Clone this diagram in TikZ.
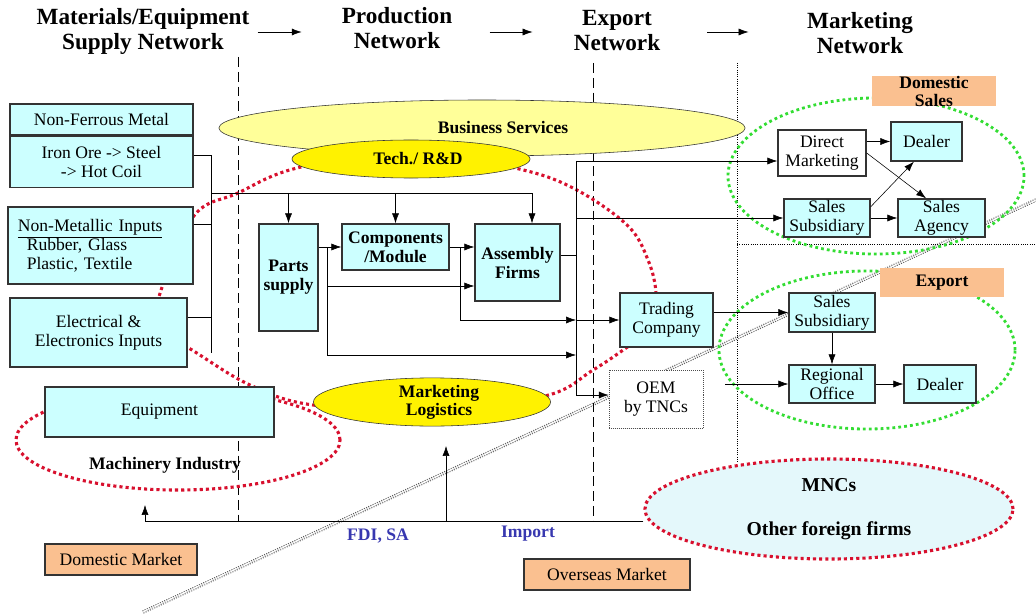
\documentclass[tikz,border=0pt]{standalone}
\usepackage{fontspec}
\setmainfont{Liberation Serif}
\usetikzlibrary{positioning,shapes.geometric,arrows.meta}
\definecolor{boxcyan}{HTML}{CCFFFF}
\definecolor{peach}{HTML}{FAC090}
\definecolor{lightyel}{HTML}{FFFF99}
\definecolor{dotred}{HTML}{D8102E}
\definecolor{dotgreen}{HTML}{33DD33}
\definecolor{paleblue}{HTML}{E4F8FB}
\definecolor{labblue}{HTML}{3838B0}
\pgfdeclarelayer{bg}
\pgfsetlayers{bg,main}

\begin{document}
\begin{tikzpicture}[x=0.025cm,y=-0.025cm,>={Latex[length=7pt,width=5pt]},line width=.8pt,
 every node/.style={font=\fontsize{12.5}{13.5}\selectfont, align=center, inner sep=0pt},
 box/.style={draw=black!80, fill=boxcyan, line width=1pt},
 bbox/.style={box, font=\fontsize{12.5}{13.5}\selectfont\bfseries},
 head/.style={font=\fontsize{16.5}{17.8}\selectfont\bfseries},
 tag/.style={fill=peach, font=\fontsize{12.5}{12.8}\selectfont\bfseries},
 oval/.style={ellipse, draw=black!80, fill=yellow, font=\fontsize{12.5}{12.8}\selectfont\bfseries},
 bluelab/.style={text=labblue, font=\fontsize{12.5}{13.5}\selectfont\bfseries},
 reddots/.style={draw=dotred, line width=2.2pt, dash pattern=on 2.2pt off 2.2pt},
 greendots/.style={draw=dotgreen, line width=2pt, dash pattern=on 2pt off 2.2pt}]
\begin{pgfonlayer}{bg}
\fill[white] (0,0) rectangle (1036,616);
\end{pgfonlayer}
\useasboundingbox (0,0) rectangle (1036,616);

\node[head] (hsup) at (143,31) {Materials/Equipment\\Supply Network};
\node[head] (hprod) at (397,28) {Production\\Network};
\node[head] (hexp) at (617,31) {Export\\Network};
\node[head] (hmkt) at (860,33) {Marketing\\Network};
\draw[->] (hsup.east |- 0,32) ++(8,0) -- ++(44,0);
\draw[->] (hprod.east |- 0,32) ++(37,0) -- ++(43,0);
\draw[->] (hexp.east |- 0,32) ++(47,0) -- ++(41,0);

\node[box, minimum width=4.575cm, minimum height=.775cm] (nfm) at (101.5,119.5) {Non-Ferrous Metal};
\node[box, minimum width=4.575cm, minimum height=1.275cm, below=0pt of nfm] (iron) {Iron Ore -> Steel\\-> Hot Coil};
\node[box, text width=4.125cm, inner xsep=.25cm, minimum height=1.925cm, align=left] (nonmet) at (100.5,245.5) {\underline{Non-Metallic Inputs}\\\hspace*{.22cm}Rubber, Glass\\\hspace*{.22cm}Plastic, Textile};
\node[box, minimum width=4.425cm, minimum height=1.725cm] (elec) at (98.5,332.5) {Electrical \&\\Electronics Inputs};
\node[box, minimum width=5.725cm, minimum height=1.25cm] (equip) at (159.5,412) {Equipment};
\node[font=\fontsize{12.5}{13.5}\selectfont\bfseries] (mach) at (165,465) {Machinery Industry};

\node[oval, fill=lightyel, minimum width=13.15cm, minimum height=1.4cm] (biz) at (482,128) {\hspace*{1.05cm}Business Services};
\node[oval, minimum width=5.95cm, minimum height=.95cm] (tech) at (411,159) {\hspace*{.35cm}Tech./ R\&D};
\node[oval, minimum width=5.925cm, minimum height=.95cm] (mktlog) at (432,402) {\hspace*{.35cm}Marketing\\\hspace*{.35cm}Logistics};

\node[bbox, minimum width=1.475cm, minimum height=2.675cm] (parts) at (288.5,277.5) {Parts\\supply};
\node[bbox, minimum width=2.675cm, minimum height=1.15cm] (comp) at (395.5,247) {Components\\/Module};
\node[bbox, minimum width=2.125cm, minimum height=1.925cm] (assem) at (517.5,262.5) {Assembly\\Firms};

\node[box, minimum width=2.325cm, minimum height=1.35cm] (trade) at (666.5,320) {Trading\\Company};
\node[draw=black!70, densely dotted, fill=white, minimum width=2.35cm, minimum height=1.45cm] (oem) at (656,399) {OEM\\by TNCs};

\node[tag, minimum width=3.1cm, minimum height=.75cm] (domsale) at (934,91) {Domestic\\Sales};
\node[box, fill=white, minimum width=2.2cm, minimum height=1.15cm] (dm) at (822,153) {Direct\\Marketing};
\node[box, minimum width=1.775cm, minimum height=.975cm] (deal1) at (926.5,141.5) {Dealer};
\node[box, minimum width=2.15cm, minimum height=.95cm] (ssub1) at (827,218) {Sales\\Subsidiary};
\node[box, minimum width=2.175cm, minimum height=.95cm] (sagen) at (941.5,218) {Sales\\Agency};
\node[tag, minimum width=3.1cm, minimum height=.725cm] (exptag) at (942,282.5) {Export};
\node[box, minimum width=2.15cm, minimum height=.975cm] (ssub2) at (832,312.5) {Sales\\Subsidiary};
\node[box, minimum width=2.15cm, minimum height=.95cm] (regoff) at (832,384) {Regional\\Office};
\node[box, minimum width=1.8cm, minimum height=.95cm] (deal2) at (940,384) {Dealer};

\node[ellipse, reddots, fill=paleblue, minimum width=9.2cm, minimum height=2.5cm, font=\fontsize{14}{15}\selectfont\bfseries] (mnc) at (829,509) {MNCs\\[16pt]Other foreign firms};
\node[tag, draw=black!80, line width=1pt, font=\fontsize{12.5}{13.5}\selectfont, minimum width=3.8cm, minimum height=.775cm] (dommkt) at (121,559.5) {Domestic Market};
\node[tag, draw=black!80, line width=1pt, font=\fontsize{12.5}{13.5}\selectfont, minimum width=4.15cm, minimum height=.775cm] (ovsmkt) at (607,574.5) {Overseas Market};
\node[bluelab] (fdilab) at (378,536) {FDI, SA};
\node[bluelab] (implab) at (528,534) {Import};

\coordinate (bktop) at (211,155);
\coordinate (bkbot) at (211,353);
\coordinate (feed) at (211,193);
\coordinate (feedend) at (532,193);
\coordinate (pj) at (327,247);
\coordinate (cj) at (460,247);
\coordinate (trtop) at (576,161);
\coordinate (trbot) at (576,395);
\coordinate (expin) at (725,384);
\coordinate (base) at (145,521);
\coordinate (fdiup) at (446,521);

\draw (iron.east |- bktop) -- (bktop) -- (bkbot);
\draw (nonmet.east |- 0,224) -- (bktop |- 0,224);
\draw (elec.east |- 0,317) -- (bktop |- 0,317);
\draw[->] (feed) -- (feedend) -- (feedend |- assem.north);
\draw[->] (parts.north |- feed) -- (parts.north);
\draw[->] (comp.north |- feed) -- (comp.north);
\draw[->] (parts.east |- pj) -- (comp.west);
\draw[->] (pj) |- (assem.west |- 0,286);
\draw[->] (pj) |- (trtop |- 0,355);
\draw[->] (comp.east) -- (assem.west |- comp.east);
\draw[->] (cj) |- (trtop |- trade.west);
\draw[->] (trtop |- trade.west) -- (trade.west);
\draw (assem.east |- 0,255) -- (trtop |- 0,255);
\draw (trtop) -- (trbot);
\draw[->] (trtop) -- (dm.west |- trtop);
\draw[->] (trtop |- ssub1.west) -- (ssub1.west);
\draw[->] (trbot) -- (oem.west |- trbot);

\draw[->] (dm.east |- deal1.west) -- (deal1.west);
\draw[->] (dm.east) -- ([xshift=-11pt]sagen.north);
\draw[->] ([yshift=8pt]ssub1.east) -- ([xshift=-9pt]deal1.south);
\draw[->] (ssub1.east) -- (sagen.west);
\draw[->] (trade.east |- ssub2.west) -- (ssub2.west);
\draw[->] (ssub2) -- (regoff);
\draw[->] (expin) -- (regoff.west);
\draw[->] (regoff) -- (deal2);
\draw[->] (fdiup) -- ++(0,-75);

\begin{pgfonlayer}{bg}
\draw[black!65, densely dotted, double, double distance=1pt, line width=.7pt] (143,612) -- (1036,200);
\draw[dash pattern=on 7pt off 3.5pt] (238,57) -- (238,521);
\draw[dash pattern=on 7pt off 3.5pt] (593,63) -- (593,521);
\draw[densely dotted, line width=.6pt] (737,63) -- (737,462);
\draw[densely dotted, line width=.6pt] (737,244) -- (1036,244);
\draw[reddots] plot[smooth cycle, tension=.6] coordinates {(158,300) (193,217) (238,193) (297,168) (410,150) (515,168) (573,188) (627,225) (648,260) (656,295) (650,330) (626,348) (593,370) (545,396) (430,410) (313,405) (250,385) (192,350) (160,330)};
\draw[reddots] (178,440) ellipse [x radius=4.05cm, y radius=1.25cm];
\draw[greendots] (876,176) ellipse [x radius=3.7cm, y radius=1.95cm];
\draw[greendots] (867,350) ellipse [x radius=3.7cm, y radius=1.975cm];
\draw[->] (mnc.west |- base) -- (base) -- ++(0,-16);
\end{pgfonlayer}
\end{tikzpicture}
\end{document}
